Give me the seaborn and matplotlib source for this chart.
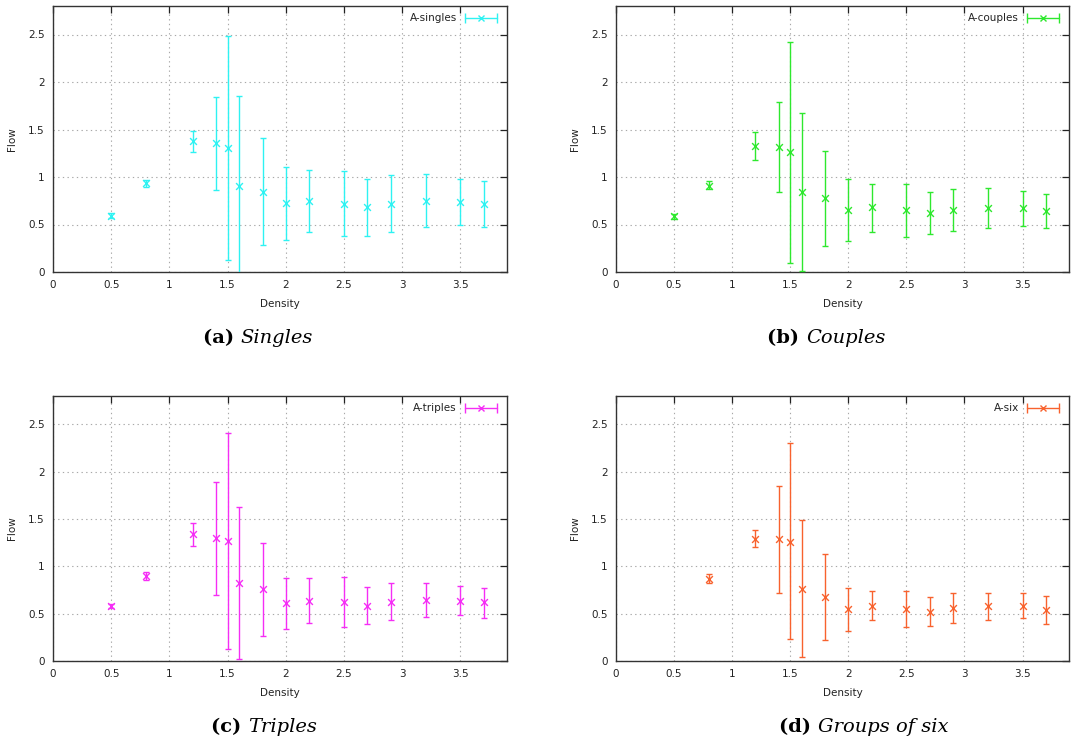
import numpy as np
import pandas as pd
import matplotlib
matplotlib.use("Agg")
import matplotlib.pyplot as plt
import seaborn as sns
from matplotlib.lines import Line2D
from matplotlib.legend_handler import HandlerLine2D, HandlerTuple

density = [0.5, 0.8, 1.2, 1.4, 1.5, 1.6, 1.8, 2.0, 2.2, 2.5, 2.7, 2.9, 3.2, 3.5, 3.7]

singles_mean = [0.59, 0.94, 1.377, 1.363, 1.306, 0.908, 0.845, 0.725, 0.75, 0.715, 0.683, 0.718, 0.75, 0.739, 0.715]
singles_hi = [0.62, 0.97, 1.48, 1.845, 2.48, 1.856, 1.412, 1.109, 1.077, 1.063, 0.975, 1.021, 1.035, 0.982, 0.958]
singles_lo = [0.565, 0.89, 1.264, 0.863, 0.13, -0.04, 0.282, 0.335, 0.423, 0.377, 0.384, 0.423, 0.472, 0.496, 0.472]

couples_mean = [0.585, 0.908, 1.327, 1.317, 1.264, 0.845, 0.775, 0.651, 0.68, 0.651, 0.62, 0.655, 0.673, 0.673, 0.641]
couples_hi = [0.613, 0.958, 1.475, 1.792, 2.426, 1.676, 1.278, 0.982, 0.93, 0.93, 0.842, 0.87, 0.88, 0.852, 0.82]
couples_lo = [0.556, 0.87, 1.176, 0.838, 0.095, 0.007, 0.271, 0.324, 0.423, 0.37, 0.401, 0.43, 0.465, 0.486, 0.458]

triples_mean = [0.581, 0.901, 1.342, 1.296, 1.271, 0.827, 0.757, 0.609, 0.634, 0.627, 0.581, 0.627, 0.644, 0.634, 0.62]
triples_hi = [0.602, 0.944, 1.461, 1.887, 2.412, 1.623, 1.25, 0.877, 0.873, 0.884, 0.778, 0.82, 0.82, 0.789, 0.771]
triples_lo = [0.556, 0.852, 1.211, 0.694, 0.123, 0.018, 0.261, 0.338, 0.401, 0.356, 0.387, 0.433, 0.461, 0.482, 0.451]

six_density = [0.8, 1.2, 1.4, 1.5, 1.6, 1.8, 2.0, 2.2, 2.5, 2.7, 2.9, 3.2, 3.5, 3.7]
six_mean = [0.87, 1.289, 1.289, 1.261, 0.764, 0.676, 0.549, 0.581, 0.546, 0.521, 0.556, 0.581, 0.581, 0.539]
six_hi = [0.923, 1.38, 1.852, 2.3, 1.489, 1.134, 0.775, 0.736, 0.736, 0.676, 0.722, 0.722, 0.715, 0.683]
six_lo = [0.827, 1.204, 0.722, 0.236, 0.042, 0.218, 0.313, 0.433, 0.356, 0.366, 0.398, 0.433, 0.451, 0.387]

labels = ["A-singles", "A-couples", "A-triples", "A-six"]
captions = [("(a)", "Singles"), ("(b)", "Couples"), ("(c)", "Triples"), ("(d)", "Groups of six")]
colors = ["#2ef2f2", "#2ee82e", "#f52ef5", "#f8622e"]

x_ticks = [0, 0.5, 1, 1.5, 2, 2.5, 3, 3.5]
y_ticks = [0, 0.5, 1, 1.5, 2, 2.5]
x_ticklabels = ["0", "0.5", "1", "1.5", "2", "2.5", "3", "3.5"]
y_ticklabels = ["0", "0.5", "1", "1.5", "2", "2.5"]

series = [
    (density, singles_mean, singles_lo, singles_hi),
    (density, couples_mean, couples_lo, couples_hi),
    (density, triples_mean, triples_lo, triples_hi),
    (six_density, six_mean, six_lo, six_hi),
]

sns.set_theme(style="white")
plt.rcParams['font.family'] = ['DejaVu Sans']

W, H = 1071, 744
fig = plt.figure(figsize=(W / 100, H / 100), dpi=100)

# axes boxes in pixels: left, top, right, bottom
boxes = [(53, 6, 507, 272), (616, 6, 1069, 272), (53, 396, 507, 661), (616, 396, 1069, 661)]
cap_pos = [(243, 338), (808, 338), (250, 727), (820, 727)]

for i, (xs, m, lo, hi) in enumerate(series):
    l, t, r, b = boxes[i]
    ax = fig.add_axes([l / W, 1 - b / H, (r - l) / W, (b - t) / H])
    df = pd.DataFrame({"Density": xs, "Flow": m,
                       "lo": lo, "hi": hi})
    c = colors[i]
    yerr = np.vstack([df["Flow"] - df["lo"], df["hi"] - df["Flow"]])
    ax.errorbar(df["Density"], df["Flow"], yerr=yerr, fmt="none", ecolor=c,
                elinewidth=1.0, capsize=2.3, capthick=1.0, zorder=3)
    sns.scatterplot(data=df, x="Density", y="Flow", ax=ax, marker="x", color=c,
                    s=24, linewidth=1.0, zorder=4, legend=False)
    ax.set_xlim(0, 3.9)
    ax.set_ylim(0, 2.8)
    ax.set_xticks(x_ticks)
    ax.set_xticklabels(x_ticklabels)
    ax.set_yticks(y_ticks)
    ax.set_yticklabels(y_ticklabels)
    ax.grid(True, linestyle=(0, (1.2, 3.0)), color="#a8a8a8", linewidth=0.8)
    ax.tick_params(axis="both", direction="in", length=5, width=0.9, colors="#222222",
                   labelsize=7.5, top=True, right=True, pad=6)
    for sp in ax.spines.values():
        sp.set_color("#333333")
        sp.set_linewidth(1.0)
    ax.set_xlabel("Density", fontsize=7.5, color="#222222", labelpad=6)
    ax.set_ylabel("Flow", fontsize=7.5, color="#222222", labelpad=8)

    caps = Line2D([], [], color=c, marker="|", markersize=7, linewidth=1.0)
    cross = Line2D([], [], color=c, marker="x", markersize=5, linestyle="none")
    leg = ax.legend([(caps, cross)], [labels[i]], loc="upper right",
                    handler_map={caps: HandlerLine2D(numpoints=2),
                                 cross: HandlerLine2D(numpoints=1),
                                 tuple: HandlerTuple(ndivide=1)},
                    markerfirst=False, frameon=False, fontsize=7.5,
                    handlelength=3.6, handletextpad=0.5, borderaxespad=0.3)
    for txt in leg.get_texts():
        txt.set_color("#222222")

    cx, cy = cap_pos[i]
    tag, name = captions[i]
    fig.text(cx / W - 0.002, 1 - cy / H, tag + " ", ha="right", va="center",
             fontsize=14, fontweight="bold", family="DejaVu Serif", color="black")
    fig.text(cx / W - 0.002, 1 - cy / H, name, ha="left", va="center",
             fontsize=14, style="italic", family="DejaVu Serif", color="black")

fig.savefig("out.png", dpi=100)
